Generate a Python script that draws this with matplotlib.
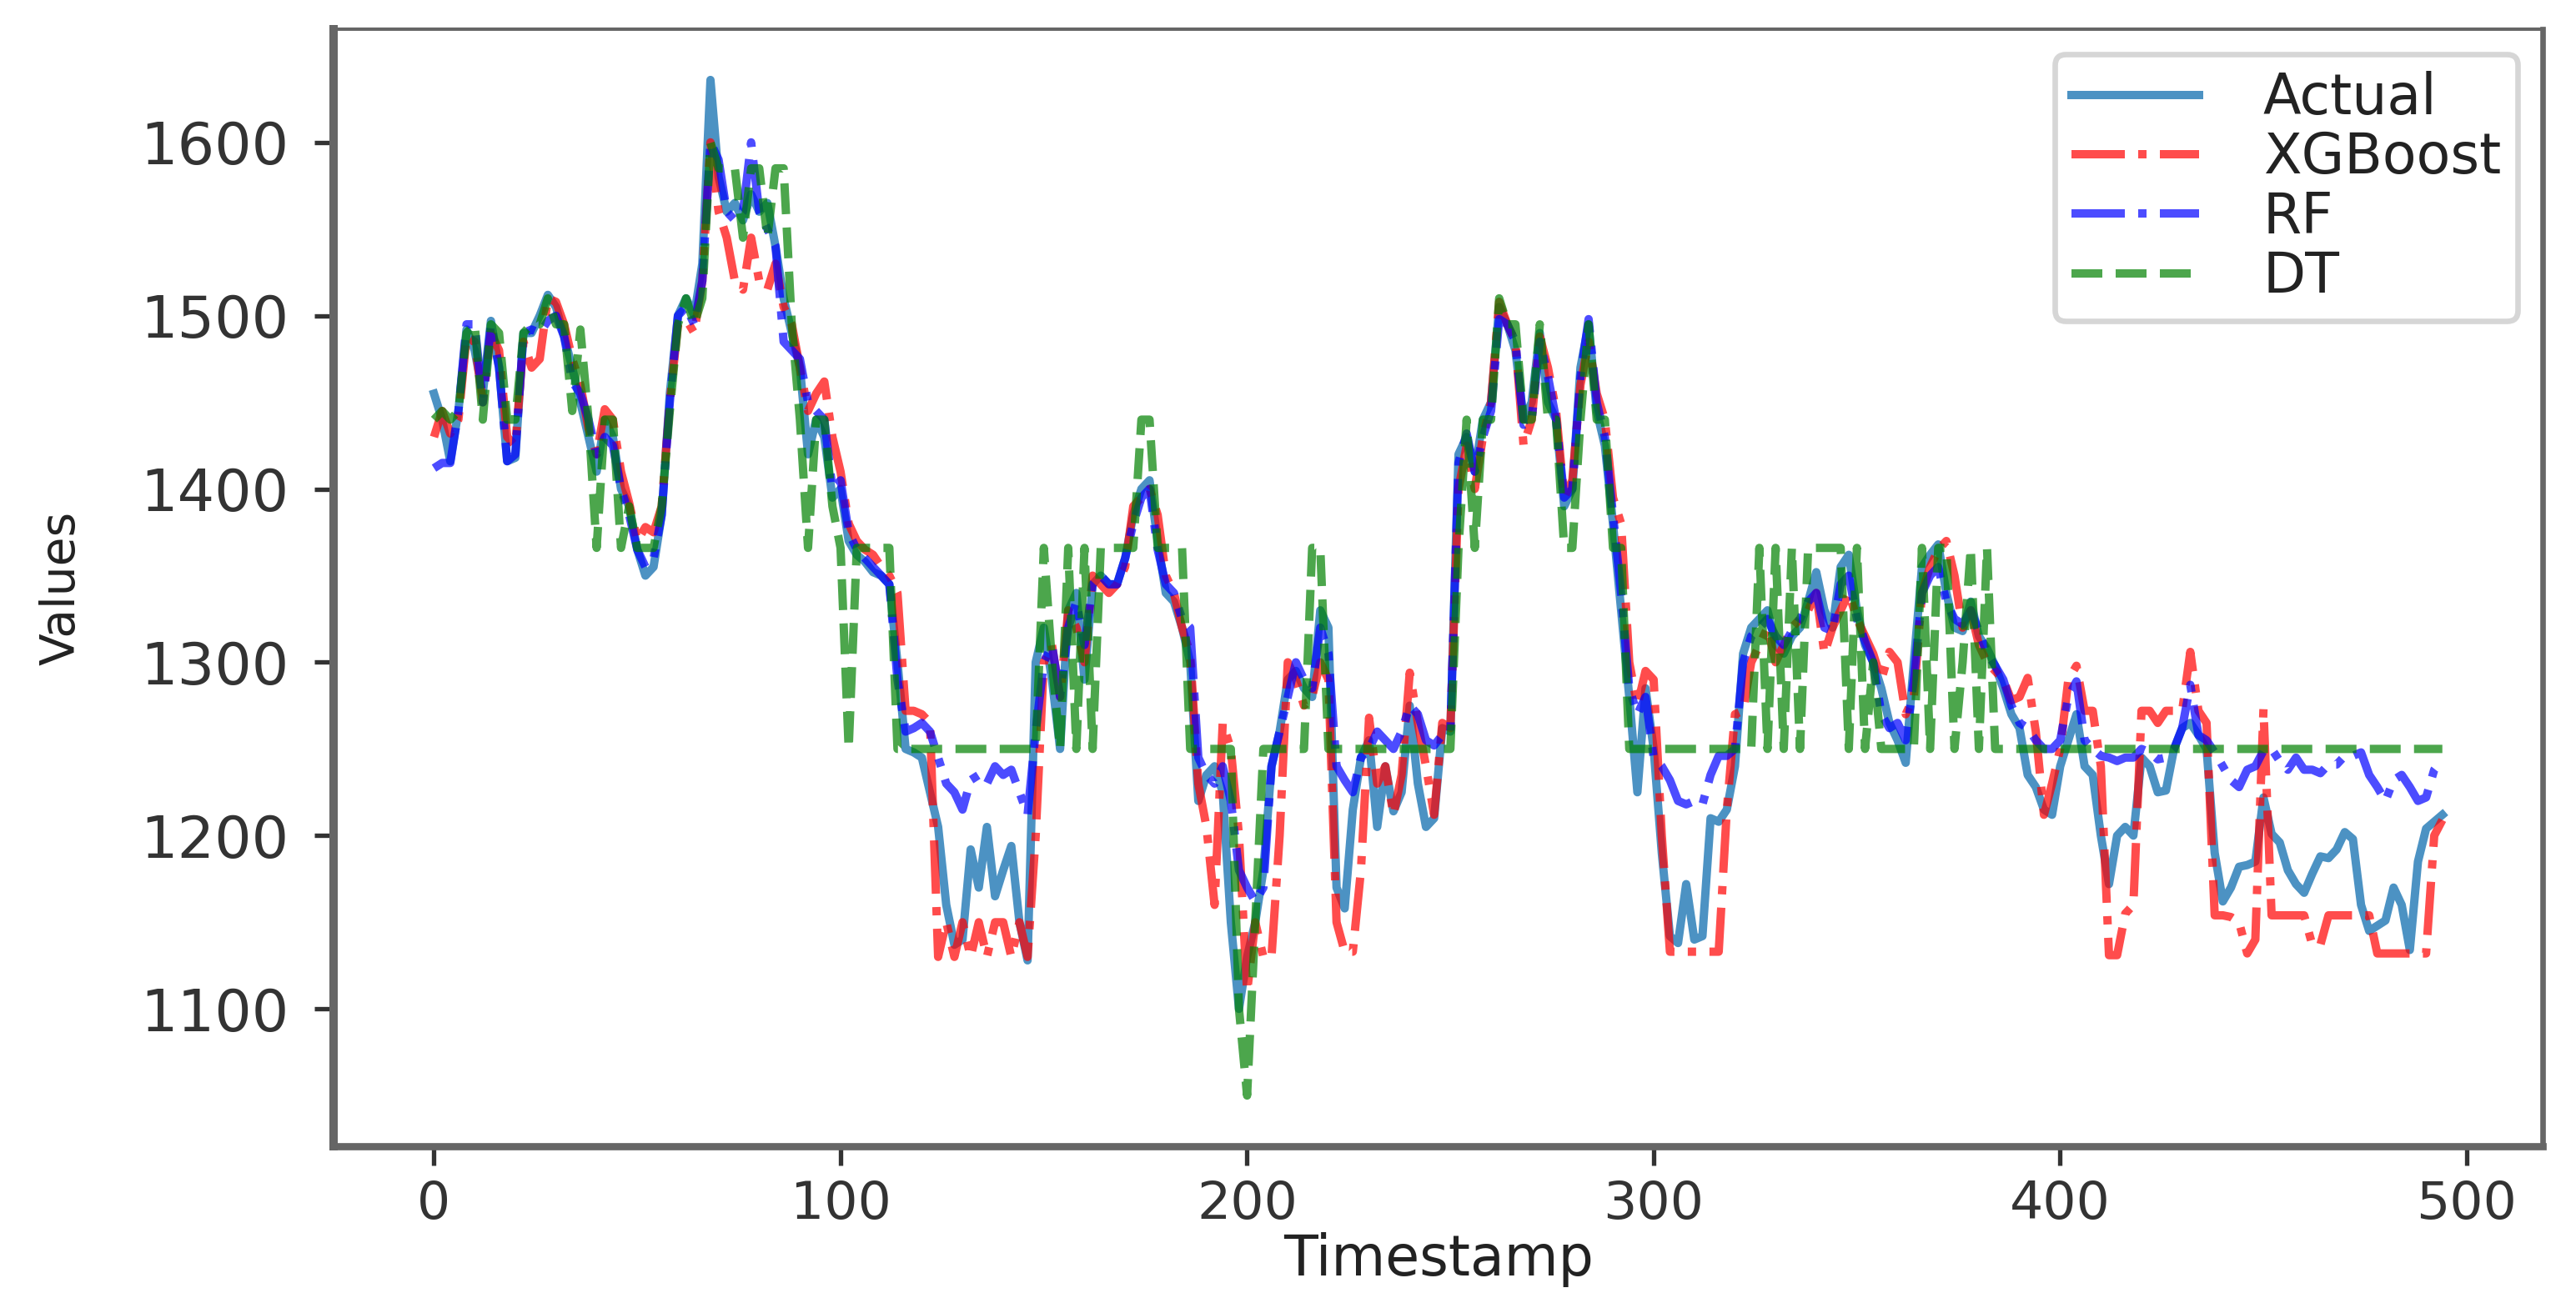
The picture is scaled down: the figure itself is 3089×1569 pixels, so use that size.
import matplotlib
matplotlib.use('Agg')
import matplotlib.pyplot as plt
import numpy as np

# Timestamps (sampled every 2 steps)
timestamps = np.arange(0, 495, 2)

actual = [
    1455, 1440, 1416, 1445, 1492, 1480, 1455, 1497, 1470, 1416,
    1418, 1490, 1490, 1500, 1512, 1505, 1488, 1470, 1450, 1430,
    1410, 1440, 1430, 1400, 1390, 1365, 1350, 1355, 1385, 1455,
    1500, 1510, 1500, 1530, 1636, 1580, 1560, 1565, 1555, 1570,
    1560, 1565, 1540, 1510, 1490, 1470, 1420, 1440, 1430, 1395,
    1400, 1370, 1362, 1358, 1352, 1350, 1345, 1300, 1250, 1248,
    1245, 1225, 1205, 1160, 1137, 1140, 1192, 1170, 1205, 1165,
    1180, 1194, 1150, 1128, 1300, 1320, 1290, 1250, 1330, 1340,
    1290, 1345, 1350, 1345, 1345, 1360, 1385, 1400, 1405, 1370,
    1340, 1335, 1320, 1300, 1220, 1235, 1240, 1225, 1150, 1100,
    1130, 1150, 1180, 1240, 1260, 1290, 1295, 1285, 1280, 1330,
    1320, 1170, 1158, 1215, 1245, 1255, 1205, 1240, 1214, 1225,
    1275, 1230, 1205, 1210, 1262, 1260, 1420, 1430, 1410, 1440,
    1450, 1505, 1495, 1480, 1440, 1450, 1490, 1450, 1440, 1390,
    1400, 1470, 1495, 1445, 1425, 1380, 1330, 1280, 1225, 1285,
    1250, 1190, 1142, 1138, 1172, 1140, 1142, 1210, 1208, 1215,
    1240, 1305, 1320, 1325, 1330, 1310, 1305, 1315, 1320, 1335,
    1352, 1330, 1320, 1355, 1362, 1330, 1310, 1300, 1285, 1265,
    1255, 1242, 1300, 1355, 1362, 1368, 1340, 1320, 1318, 1335,
    1315, 1308, 1298, 1285, 1270, 1262, 1235, 1228, 1215, 1212,
    1240, 1255, 1270, 1240, 1235, 1200, 1172, 1200, 1205, 1200,
    1245, 1240, 1225, 1226, 1250, 1262, 1265, 1258, 1250, 1190,
    1162, 1170, 1182, 1183, 1185, 1222, 1201, 1196, 1180, 1172,
    1167, 1178, 1188, 1187, 1192, 1202, 1198, 1160, 1145, 1148,
    1151, 1170, 1160, 1134, 1185, 1204, 1208, 1212,
]

xgboost = [
    1430, 1445, 1432, 1440, 1488, 1485, 1450, 1490, 1480, 1430,
    1425, 1485, 1470, 1475, 1510, 1508, 1495, 1475, 1460, 1435,
    1420, 1446, 1440, 1410, 1392, 1370, 1378, 1375, 1390, 1450,
    1495, 1498, 1490, 1520, 1600, 1560, 1545, 1520, 1515, 1545,
    1520, 1515, 1530, 1505, 1495, 1470, 1445, 1455, 1462, 1430,
    1410, 1380, 1370, 1365, 1362, 1355, 1350, 1340, 1272, 1272,
    1270, 1265, 1130, 1150, 1130, 1150, 1130, 1150, 1130, 1150,
    1150, 1130, 1150, 1130, 1200, 1300, 1310, 1280, 1330, 1320,
    1300, 1350, 1345, 1340, 1345, 1355, 1390, 1395, 1400, 1385,
    1350, 1340, 1320, 1305, 1230, 1205, 1160, 1265, 1250, 1200,
    1110, 1150, 1130, 1130, 1200, 1300, 1290, 1275, 1280, 1300,
    1290, 1150, 1133, 1133, 1180, 1268, 1230, 1240, 1212, 1235,
    1294, 1265, 1240, 1212, 1265, 1262, 1400, 1425, 1400, 1430,
    1450, 1508, 1495, 1485, 1425, 1440, 1488, 1470, 1445, 1395,
    1405, 1460, 1485, 1455, 1440, 1395, 1380, 1300, 1275, 1295,
    1290, 1200, 1133, 1133, 1133, 1133, 1133, 1133, 1133, 1215,
    1270, 1272, 1300, 1310, 1320, 1300, 1310, 1320, 1325, 1330,
    1340, 1305, 1320, 1330, 1340, 1325, 1315, 1305, 1290, 1306,
    1300, 1270, 1280, 1340, 1355, 1365, 1370, 1350, 1320, 1330,
    1310, 1300, 1295, 1290, 1278, 1280, 1291, 1260, 1212, 1230,
    1250, 1290, 1298, 1272, 1272, 1240, 1131, 1131, 1155, 1160,
    1272, 1272, 1265, 1272, 1272, 1272, 1306, 1272, 1265, 1154,
    1154, 1153, 1150, 1132, 1140, 1273, 1154, 1154, 1154, 1154,
    1154, 1137, 1137, 1154, 1154, 1154, 1154, 1154, 1154, 1132,
    1132, 1132, 1132, 1132, 1132, 1132, 1200, 1209,
]

rf = [
    1412, 1415, 1415, 1445, 1495, 1495, 1450, 1495, 1470, 1416,
    1420, 1490, 1492, 1490, 1497, 1500, 1488, 1462, 1455, 1440,
    1420, 1430, 1425, 1400, 1385, 1365, 1355, 1360, 1385, 1450,
    1500, 1505, 1495, 1520, 1600, 1590, 1560, 1555, 1560, 1600,
    1560, 1550, 1540, 1485, 1480, 1475, 1450, 1445, 1440, 1400,
    1405, 1375, 1365, 1360, 1355, 1350, 1345, 1290, 1260, 1262,
    1265, 1260, 1245, 1230, 1225, 1215, 1232, 1235, 1230, 1240,
    1235, 1238, 1225, 1212, 1260, 1300, 1310, 1280, 1320, 1335,
    1310, 1345, 1350, 1345, 1345, 1360, 1380, 1395, 1400, 1365,
    1345, 1340, 1325, 1320, 1245, 1235, 1230, 1240, 1220, 1180,
    1170, 1162, 1170, 1240, 1260, 1280, 1300, 1290, 1285, 1320,
    1305, 1240, 1232, 1225, 1245, 1250, 1260, 1255, 1250, 1260,
    1275, 1270, 1255, 1252, 1258, 1260, 1415, 1432, 1410, 1430,
    1445, 1498, 1495, 1485, 1437, 1440, 1485, 1465, 1440, 1395,
    1400, 1465, 1498, 1450, 1430, 1385, 1340, 1285, 1270, 1280,
    1245, 1240, 1232, 1220, 1218, 1220, 1218, 1235, 1246, 1246,
    1250, 1300, 1315, 1320, 1325, 1315, 1310, 1318, 1325, 1335,
    1340, 1320, 1318, 1345, 1350, 1325, 1312, 1300, 1270, 1262,
    1265, 1255, 1290, 1340, 1350, 1355, 1335, 1325, 1322, 1330,
    1318, 1305, 1298, 1290, 1275, 1265, 1262, 1255, 1250, 1250,
    1255, 1280, 1289, 1255, 1250, 1246, 1245, 1243, 1245, 1245,
    1250, 1248, 1244, 1245, 1250, 1262, 1287, 1258, 1255, 1248,
    1240, 1232, 1228, 1238, 1240, 1249, 1250, 1243, 1238, 1245,
    1238, 1238, 1236, 1241, 1241, 1246, 1246, 1248, 1235, 1228,
    1220, 1232, 1235, 1228, 1220, 1222, 1238, 1244,
]

dt = [
    1440, 1445, 1440, 1445, 1490, 1495, 1440, 1495, 1490, 1440,
    1440, 1490, 1495, 1495, 1510, 1495, 1495, 1445, 1492, 1440,
    1366, 1440, 1440, 1366, 1390, 1366, 1366, 1366, 1390, 1445,
    1495, 1510, 1495, 1510, 1600, 1585, 1585, 1585, 1545, 1585,
    1585, 1545, 1585, 1585, 1495, 1440, 1366, 1440, 1440, 1390,
    1366, 1250, 1366, 1366, 1366, 1366, 1366, 1250, 1250, 1250,
    1250, 1250, 1250, 1250, 1250, 1250, 1250, 1250, 1250, 1250,
    1250, 1250, 1250, 1250, 1250, 1366, 1300, 1250, 1366, 1250,
    1366, 1250, 1366, 1366, 1366, 1366, 1366, 1440, 1440, 1366,
    1366, 1366, 1366, 1250, 1250, 1250, 1250, 1250, 1250, 1100,
    1050, 1150, 1250, 1250, 1250, 1250, 1250, 1250, 1366, 1366,
    1250, 1250, 1250, 1250, 1250, 1250, 1250, 1250, 1250, 1250,
    1250, 1250, 1250, 1250, 1250, 1250, 1366, 1440, 1366, 1440,
    1440, 1510, 1495, 1495, 1440, 1440, 1495, 1440, 1440, 1366,
    1366, 1440, 1495, 1440, 1440, 1366, 1366, 1250, 1250, 1250,
    1250, 1250, 1250, 1250, 1250, 1250, 1250, 1250, 1250, 1250,
    1250, 1250, 1250, 1366, 1250, 1366, 1250, 1366, 1250, 1366,
    1366, 1366, 1366, 1366, 1250, 1366, 1250, 1300, 1250, 1250,
    1250, 1250, 1250, 1366, 1250, 1366, 1366, 1250, 1300, 1366,
    1250, 1366, 1250, 1250, 1250, 1250, 1250, 1250, 1250, 1250,
    1250, 1250, 1250, 1250, 1250, 1250, 1250, 1250, 1250, 1250,
    1250, 1250, 1250, 1250, 1250, 1250, 1250, 1250, 1250, 1250,
    1250, 1250, 1250, 1250, 1250, 1250, 1250, 1250, 1250, 1250,
    1250, 1250, 1250, 1250, 1250, 1250, 1250, 1250, 1250, 1250,
    1250, 1250, 1250, 1250, 1250, 1250, 1250, 1250,
]

series_labels = ['Actual', 'XGBoost', 'RF', 'DT']
x_ticks = [0, 100, 200, 300, 400, 500]
y_ticks = [1100, 1200, 1300, 1400, 1500, 1600]

DPI = 480
fig = plt.figure(figsize=(3089 / DPI, 1569 / DPI), dpi=DPI)
ax = fig.add_axes([0.1295, 0.1236, 0.8576, 0.8541])

ax.plot(timestamps, actual, color='#1f77b4', lw=1.5, alpha=0.8, label=series_labels[0])
ax.plot(timestamps, xgboost, color='red', ls='-.', lw=1.5, alpha=0.7, label=series_labels[1])
ax.plot(timestamps, rf, color='blue', ls='-.', lw=1.5, alpha=0.7, label=series_labels[2])
ax.plot(timestamps, dt, color='green', ls='--', lw=1.5, alpha=0.7, label=series_labels[3])

ax.set_xlabel('Timestamp', fontsize=10, color='#222222', labelpad=0.5)
ax.set_ylabel('Values', fontsize=8.5, color='#222222', labelpad=10)
ax.set_xticks(x_ticks)
ax.set_yticks(y_ticks)
ax.tick_params(axis='x', labelsize=9.5, colors='#333333', length=3.5, width=0.8, pad=2.5)
ax.tick_params(axis='y', labelsize=10.5, colors='#333333', length=3.5, width=0.8, pad=4.5)

for side, lw in [('left', 1.5), ('bottom', 1.3), ('right', 1.0), ('top', 0.6)]:
    ax.spines[side].set_linewidth(lw)
    ax.spines[side].set_color('#666666')

leg = ax.legend(loc='upper right', fontsize=10, handlelength=2.3, handletextpad=1.15,
                labelspacing=0.08, borderpad=0.3, borderaxespad=0.45)
for t in leg.get_texts():
    t.set_color('#222222')

fig.savefig('out.png', dpi=DPI)
